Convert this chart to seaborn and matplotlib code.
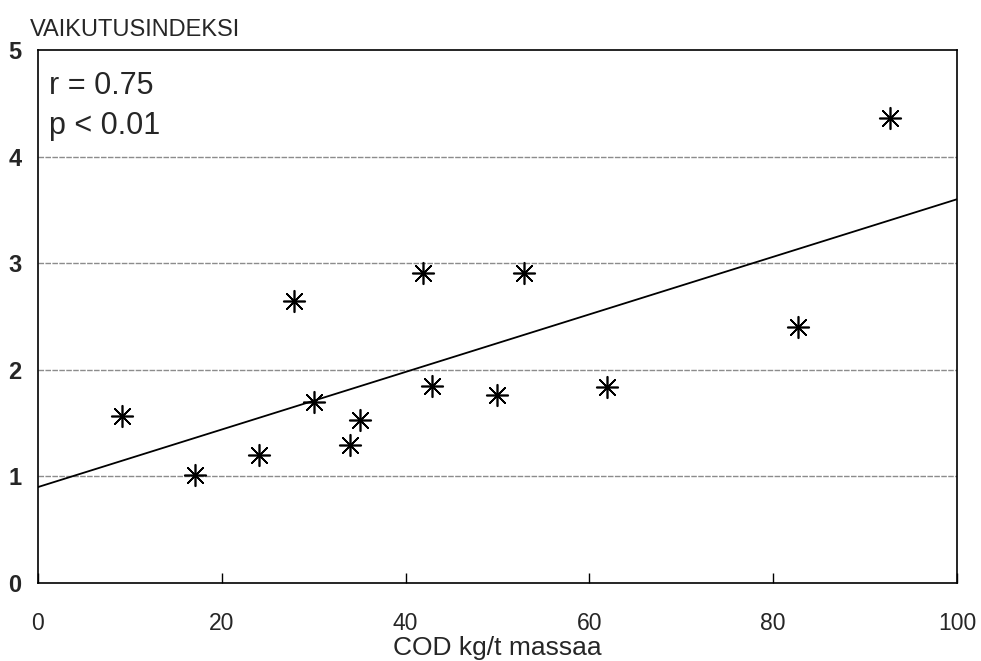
import matplotlib
matplotlib.use("Agg")
import matplotlib.pyplot as plt
import seaborn as sns
import numpy as np
import pandas as pd

# ---- data ----
cod = [9.1, 17.1, 24.0, 27.9, 30.0, 34.0, 35.0, 41.9, 42.9, 49.9, 52.9, 61.9, 82.7, 92.7]
index_val = [1.57, 1.01, 1.20, 2.65, 1.70, 1.29, 1.53, 2.91, 1.85, 1.76, 2.91, 1.84, 2.40, 4.36]
fit_x = [0, 100]
fit_y = [0.90, 3.60]
x_ticks = [0, 20, 40, 60, 80, 100]
y_ticks = [0, 1, 2, 3, 4, 5]
grid_levels = [1, 2, 3, 4]
stats_lines = ["r = 0.75", "p < 0.01"]

sns.set_theme(style="white")
plt.rcParams['font.family'] = ['Liberation Sans', 'DejaVu Sans']

df = pd.DataFrame({"cod": cod, "idx": index_val})
fit = pd.DataFrame({"x": fit_x, "y": fit_y})

fig = plt.figure(figsize=(9.81, 6.61), dpi=100)
ax = fig.add_axes([38/981, 1 - 583/661, (957 - 38)/981, (583 - 50)/661])

for g in grid_levels:
    ax.axhline(g, color="#8c8c8c", lw=1.0, ls=(0, (4, 1)), zorder=0)

sns.lineplot(data=fit, x="x", y="y", ax=ax, color="black", lw=1.3, zorder=2)
sns.scatterplot(data=df, x="cod", y="idx", ax=ax, marker=(8, 2, 0), s=240,
                color="black", linewidth=1.2, zorder=3)

ax.set_xlim(0, 100)
ax.set_ylim(0, 5)
ax.set_xticks(x_ticks)
ax.set_yticks(y_ticks)
ax.set_xticklabels([str(v) for v in x_ticks], fontsize=16.5)
ax.set_yticklabels([str(v) for v in y_ticks], fontsize=17, fontweight="bold")
ax.tick_params(axis="x", direction="in", length=7, width=1.0, color="black", pad=21, bottom=True)
ax.tick_params(axis="y", length=0, pad=12)

for s in ax.spines.values():
    s.set_visible(True)
    s.set_color("black")
    s.set_linewidth(1.2)

ax.set_xlabel("COD kg/t massaa", fontsize=19, va="center")
ax.xaxis.set_label_coords(0.5, -(648 - 583) / (583 - 50))
ax.set_ylabel("")
fig.text(30/981, 1 - 30/661, "VAIKUTUSINDEKSI", fontsize=17, va="center", ha="left")

ax.text(0.012, 0.96, stats_lines[0], transform=ax.transAxes, fontsize=22, va="top", ha="left")
ax.text(0.012, 0.885, stats_lines[1], transform=ax.transAxes, fontsize=22, va="top", ha="left")

fig.savefig("out.png", dpi=100)
